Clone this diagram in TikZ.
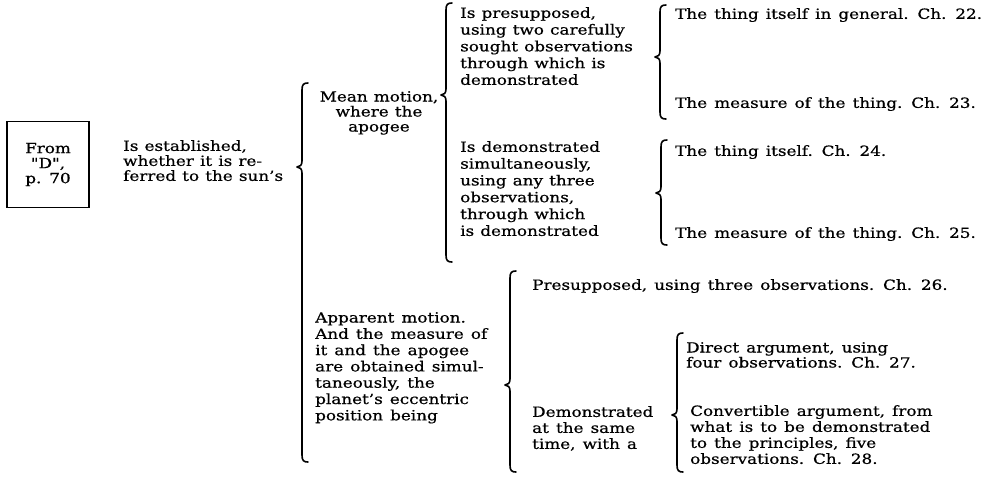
\documentclass[tikz,border=0pt]{standalone}
\usepackage{fontspec}
\setmainfont[Ligatures=TeXOff,FakeStretch=1.2,WordSpace=1.5,FakeBold=0.6]{DejaVu Serif}
\newfontfamily\tightfont[Ligatures=TeXOff,FakeStretch=1.2,WordSpace=1.15,FakeBold=0.6]{DejaVu Serif}
\newcommand\BraceL[4]{% #1 spine x, #2 top y, #3 tip y, #4 bottom y
  \draw[brc] ({#1+6},{#2}) .. controls ({#1+1.5},{#2}) and ({#1},{#2+1.5}) .. ({#1},{#2+7})
    -- ({#1},{#3-6}) .. controls ({#1},{#3-2}) and ({#1-2},{#3}) .. ({#1-5},{#3})
    .. controls ({#1-2},{#3}) and ({#1},{#3+2}) .. ({#1},{#3+6})
    -- ({#1},{#4-7}) .. controls ({#1},{#4-1.5}) and ({#1+1.5},{#4}) .. ({#1+6},{#4});}
\tikzset{
  brc/.style={line width=1.6pt, line cap=round, line join=round},
  txt/.style={font=\fontsize{14}{16.3}\selectfont, inner sep=0pt, align=left, anchor=north west},
  ctxt/.style={font=\fontsize{14}{15}\selectfont, inner sep=0pt, align=center, anchor=north},
  boxnode/.style={draw, line width=1.2pt, font=\fontsize{14}{15}\selectfont, align=center,
                  minimum width=82pt, minimum height=86pt, inner sep=0pt}
}
\begin{document}
\begin{tikzpicture}[x=1pt,y=-1pt]
\useasboundingbox (0,0) rectangle (983,493);
\fill[white] (0,0) rectangle (983,493);

\node[boxnode] (box) at (48,164.5) {From\\"D",\\p. 70};
\node[txt, font=\fontsize{14}{15}\selectfont] (est) at (123,140) {Is established,\\whether it is re-\\ferred to the sun’s};

\node[ctxt] (mean) at (379,91) {Mean motion,\\where the\\apogee};
\node[txt, font=\fontsize{14}{16.75}\selectfont] (presup) at (460,7)
  {Is presupposed,\\using two carefully\\sought observations\\through which is\\demonstrated};
\node[txt, font=\fontsize{14}{16.8}\selectfont] (demsim) at (460,141)
  {Is demonstrated\\simultaneously,\\using any three\\observations,\\through which\\is demonstrated};

\node[txt, font=\tightfont\fontsize{14}{16}\selectfont] (c22) at (675,8) {The thing itself in general. Ch. 22.};
\node[txt] (c23) at (675,97) {The measure of the thing. Ch. 23.};
\node[txt] (c24) at (675,145) {The thing itself. Ch. 24.};
\node[txt] (c25) at (675,227) {The measure of the thing. Ch. 25.};

\node[txt] (app) at (315,312)
  {Apparent motion.\\And the measure of\\it and the apogee\\are obtained simul-\\taneously, the\\planet’s eccentric\\position being};
\node[txt] (c26) at (532,279) {Presupposed, using three observations. Ch. 26.};
\node[txt, font=\fontsize{14}{16}\selectfont] (same) at (532,406) {Demonstrated\\at the same\\time, with a};
\node[txt, font=\fontsize{14}{15}\selectfont] (c27) at (686,342) {Direct argument, using\\four observations. Ch. 27.};
\node[txt, font=\fontsize{14}{16}\selectfont] (c28) at (690,405) {Convertible argument, from\\what is to be demonstrated\\to the principles, five\\observations. Ch. 28.};

\BraceL{302}{83}{167}{462}
\BraceL{446}{3}{95}{262}
\BraceL{660}{5}{57}{119}
\BraceL{661}{140}{193}{245}
\BraceL{510}{271}{385}{472}
\BraceL{677}{333}{415}{472}
\end{tikzpicture}
\end{document}
